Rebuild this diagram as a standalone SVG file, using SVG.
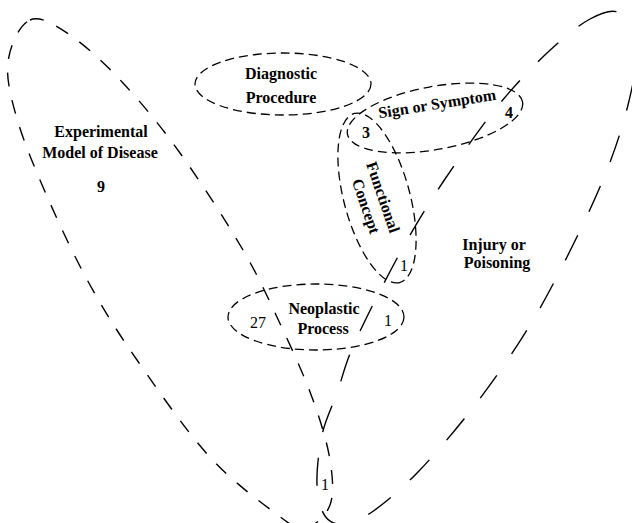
<svg xmlns="http://www.w3.org/2000/svg" width="632" height="523" viewBox="0 0 632 523">
<style>
.big{fill:none;stroke:#000;stroke-width:1.4;}
.exp{stroke-dasharray:14 14;}
.inj{stroke-dasharray:28 26;}
.sm{fill:none;stroke:#000;stroke-width:1.3;stroke-dasharray:9 5;}
.lb{font-family:"Liberation Serif","Times New Roman",serif;font-size:16px;font-weight:bold;fill:#000;text-anchor:middle;}
.nm{font-family:"Liberation Serif","Times New Roman",serif;font-size:16px;fill:#000;text-anchor:middle;}
</style>
<rect width="632" height="523" fill="#fff"/>
<g id="experimental-model-of-disease">
<path class="big exp" d="M30,20 C40.3,15.5 54.5,24.5 70,35 C85.5,45.5 104.7,63.3 123,83 C141.3,102.7 160,125.2 180,153 C200,180.8 225.8,220.5 243,250 C260.2,279.5 271.3,305 283,330 C294.7,355 305.2,378.3 313,400 C320.8,421.7 327.2,442.5 330,460 C332.8,477.5 334.2,493.7 330,505 C325.8,516.3 314.2,526.7 305,528 C295.8,529.3 291.2,525.2 275,513 C258.8,500.8 231,480.5 208,455 C185,429.5 156.7,388.3 137,360 C117.3,331.7 104.5,311.2 90,285 C75.5,258.8 62,230.2 50,203 C38,175.8 25,145.5 18,122 C11,98.5 6,79 8,62 C10,45 19.7,24.5 30,20 Z"/>
<text class="lb" x="101" y="137">Experimental</text>
<text class="lb" x="100" y="158">Model of Disease</text>
<text class="lb" x="101" y="192">9</text>
</g>
<g id="injury-or-poisoning">
<path class="big inj" d="M590,19 C602.2,12.3 612.2,8.7 620,13 C627.8,17.3 635.7,29.7 637,45 C638.3,60.3 633.3,83.3 628,105 C622.7,126.7 615.2,149.7 605,175 C594.8,200.3 580,231.2 567,257 C554,282.8 542.3,305.3 527,330 C511.7,354.7 493.2,381.3 475,405 C456.8,428.7 435.2,454.2 418,472 C400.8,489.8 384.5,503.3 372,512 C359.5,520.7 350.8,523.3 343,524 C335.2,524.7 329.3,522.5 325,516 C320.7,509.5 317.5,498.5 317,485 C316.5,471.5 318.7,450.3 322,435 C325.3,419.7 331.5,408.5 337,393 C342.5,377.5 344.5,365.3 355,342 C365.5,318.7 385.3,279.7 400,253 C414.7,226.3 426.8,206.3 443,182 C459.2,157.7 479.7,128.5 497,107 C514.3,85.5 531.5,67.7 547,53 C562.5,38.3 577.8,25.7 590,19 Z"/>
<text class="lb" x="494" y="250">Injury or</text>
<text class="lb" x="497" y="268">Poisoning</text>
</g>
<g id="diagnostic-procedure">
<ellipse class="sm" cx="283" cy="84" rx="88" ry="31"/>
<text class="lb" x="281" y="79">Diagnostic</text>
<text class="lb" x="281" y="103">Procedure</text>
</g>
<g id="sign-or-symptom">
<ellipse class="sm" cx="435" cy="118" rx="89" ry="31.5" transform="rotate(-10.4 435 118)"/>
<text class="lb" transform="translate(438 109) rotate(-9)">Sign or Symptom</text>
</g>
<g id="functional-concept">
<ellipse class="sm" cx="377" cy="198" rx="87.5" ry="33" transform="rotate(75 377 198)"/>
<text class="lb" transform="translate(378 199) rotate(71)">Functional</text>
<text class="lb" transform="translate(361 208) rotate(71)">Concept</text>
</g>
<g id="neoplastic-process">
<ellipse class="sm" cx="316" cy="317" rx="88" ry="33"/>
<text class="lb" x="324" y="314">Neoplastic</text>
<text class="lb" x="323" y="334">Process</text>
</g>
<g id="counts">
<text class="lb" x="366" y="138">3</text>
<text class="lb" x="509" y="118">4</text>
<text class="nm" x="404" y="271">1</text>
<text class="nm" x="258" y="328">27</text>
<text class="nm" x="388" y="326">1</text>
<text class="nm" x="325" y="490">1</text>
</g>
<g id="connectors"/>
</svg>
